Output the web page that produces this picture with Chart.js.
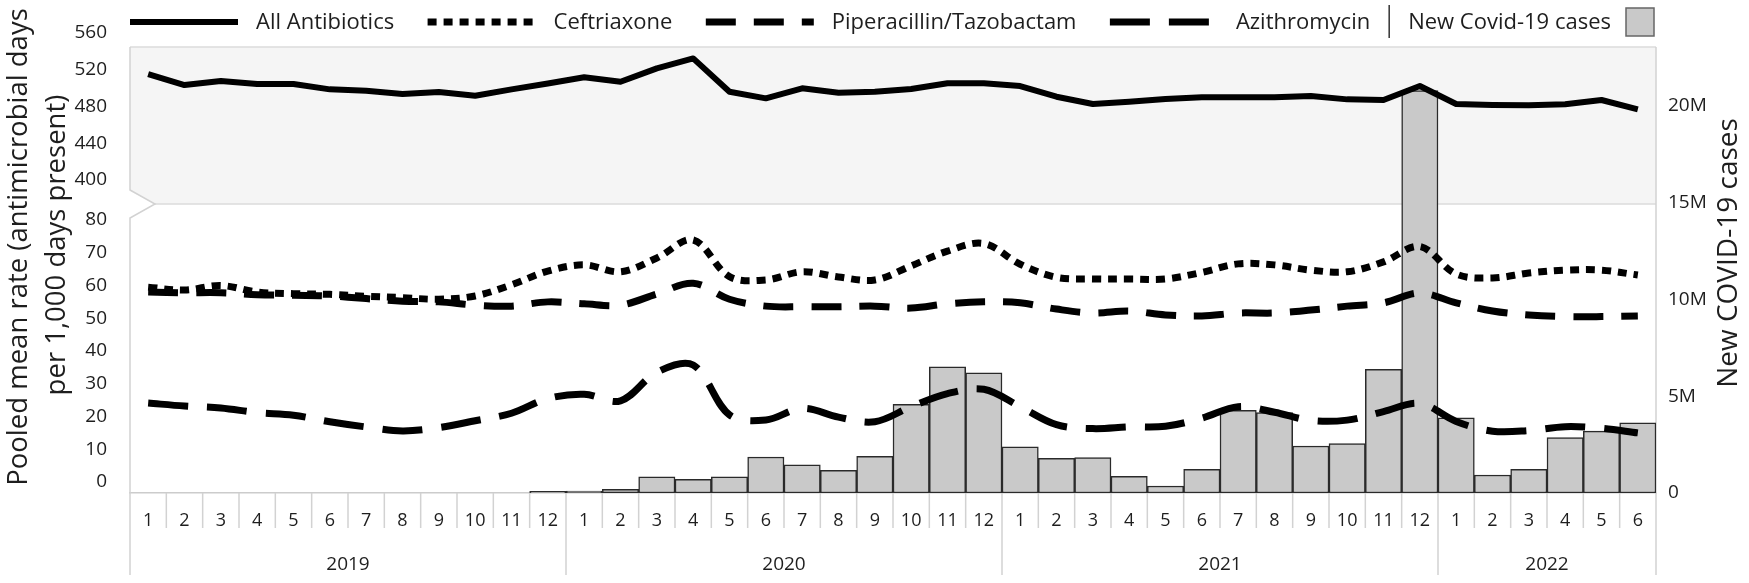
<!DOCTYPE html>
<html>
<head>
<meta charset="utf-8">
<script src="https://cdn.jsdelivr.net/npm/chart.js@4.4.1/dist/chart.umd.min.js"></script>
<style>
  html, body { margin: 0; padding: 0; background: #ffffff; }
  #wrap { width: 1749px; height: 583px; position: relative; }
  canvas { display: block; }
</style>
</head>
<body>
<div id="wrap"><canvas id="c" width="1749" height="583"></canvas></div>
<script>
// ---------------- DATA ----------------
const years = ['2019', '2020', '2021', '2022'];
const monthsPerYear = [12, 12, 12, 6];
const monthLabels = [
  '1','2','3','4','5','6','7','8','9','10','11','12',
  '1','2','3','4','5','6','7','8','9','10','11','12',
  '1','2','3','4','5','6','7','8','9','10','11','12',
  '1','2','3','4','5','6'
];
const allAntibiotics = [
  515.4, 503.4, 507.8, 504.5, 504.5, 498.7, 497.2, 493.6, 495.8, 491.8, 498.7, 505.0,
  511.8, 507.0, 521.6, 532.4, 496.1, 488.9, 499.8, 495.0, 496.0, 499.0, 505.3, 505.3,
  502.3, 490.7, 482.7, 485.2, 488.2, 490.0, 490.0, 490.0, 491.4, 487.8, 487.1, 502.3,
  482.7, 481.7, 481.3, 482.4, 487.1, 477.0
];
const ceftriaxone = [
  59.5, 58.6, 60.0, 58.0, 57.5, 57.3, 56.7, 56.3, 55.8, 56.8, 60.2, 64.4,
  66.3, 64.2, 68.4, 73.9, 62.7, 61.7, 64.2, 62.6, 61.7, 66.0, 70.5, 72.8,
  66.5, 62.5, 62.0, 62.0, 62.0, 64.0, 66.6, 66.3, 64.7, 64.2, 67.2, 71.9,
  63.5, 62.3, 63.8, 64.7, 64.7, 63.2
];
const piperacillinTazobactam = [
  58.0, 57.8, 57.8, 57.2, 57.0, 56.8, 56.0, 55.2, 55.0, 54.0, 53.7, 55.0,
  54.4, 54.0, 57.4, 60.7, 55.8, 53.7, 53.5, 53.5, 53.7, 53.1, 54.4, 55.0,
  54.7, 52.8, 51.6, 52.2, 51.0, 50.7, 51.6, 51.6, 52.5, 53.7, 54.7, 57.7,
  54.7, 52.2, 51.0, 50.5, 50.5, 50.7
];
const azithromycin = [
  24.1, 23.2, 22.6, 21.2, 20.4, 18.4, 16.8, 15.6, 16.6, 18.7, 21.0, 25.5,
  26.8, 24.8, 33.5, 35.7, 20.5, 18.9, 22.5, 19.8, 18.4, 23.0, 27.0, 28.3,
  23.0, 17.5, 16.3, 16.8, 17.0, 19.5, 23.0, 21.3, 18.8, 18.9, 21.5, 24.0,
  18.5, 15.5, 15.7, 16.9, 16.4, 15.0
];
// New Covid-19 cases, millions
const covidCasesM = [
  null, null, null, null, null, null, null, null, null, null, null, 0.08,
  0.10, 0.19, 0.83, 0.71, 0.84, 1.86, 1.45, 1.17, 1.90, 4.58, 6.52, 6.21,
  2.38, 1.79, 1.83, 0.86, 0.36, 1.22, 4.27, 4.15, 2.43, 2.55, 6.39, 20.8,
  3.89, 0.93, 1.22, 2.86, 3.20, 3.63
];
const upperTicks = [400, 440, 480, 520, 560];
const lowerTicks = [0, 10, 20, 30, 40, 50, 60, 70, 80];
const rightTicks = [0, 5, 10, 15, 20];
const leftTitleLines = ['Pooled mean rate (antimicrobial days', 'per 1,000 days present)'];
const rightTitle = 'New COVID-19 cases';

// ---------------- DERIVED ----------------
const yearCenters = [];
const yearBounds = [];
(function () {
  let s = 0;
  monthsPerYear.forEach(function (n, i) {
    yearCenters.push(s + (n - 1) / 2);
    if (i > 0) yearBounds.push(s - 0.5);
    s += n;
  });
})();
const nMonths = monthLabels.length;

const FONT = '"Open Sans", "Noto Sans", sans-serif';
const TXT = '#1e1e1e';

const decor = {
  id: 'decor',
  beforeDatasetsDraw(chart) {
    const { ctx, chartArea: ca, scales } = chart;
    const yT = scales.yTop, x = scales.x, x2 = scales.x2;
    const nb = yT.bottom, nd = 25, nh = 14;
    ctx.save();
    // upper panel background
    ctx.fillStyle = '#f5f5f5';
    ctx.fillRect(ca.left, ca.top, ca.right - ca.left, nb - ca.top);
    ctx.strokeStyle = '#dcdcdc';
    ctx.lineWidth = 1.5;
    ctx.beginPath();
    ctx.moveTo(ca.left, ca.top); ctx.lineTo(ca.right, ca.top);
    ctx.moveTo(ca.left, nb); ctx.lineTo(ca.right, nb);
    ctx.stroke();
    // break notch
    ctx.fillStyle = '#ffffff';
    ctx.beginPath();
    ctx.moveTo(ca.left - 2, nb - nh); ctx.lineTo(ca.left + nd, nb); ctx.lineTo(ca.left - 2, nb + nh);
    ctx.closePath(); ctx.fill();
    // frame edges
    ctx.strokeStyle = '#d2d2d2';
    ctx.lineWidth = 1.5;
    ctx.beginPath();
    ctx.moveTo(ca.left, ca.top); ctx.lineTo(ca.left, nb - nh); ctx.lineTo(ca.left + nd, nb);
    ctx.lineTo(ca.left, nb + nh); ctx.lineTo(ca.left, x2.bottom);
    ctx.moveTo(ca.right, ca.top); ctx.lineTo(ca.right, x2.bottom);
    ctx.stroke();
    // month separators
    ctx.beginPath();
    for (let i = 1; i < nMonths; i++) {
      const px = (x.getPixelForValue(i - 1) + x.getPixelForValue(i)) / 2;
      ctx.moveTo(px, x.top); ctx.lineTo(px, x.bottom);
    }
    // year separators
    yearBounds.forEach(function (b) {
      const px = x2.getPixelForValue(b);
      ctx.moveTo(px, x2.top); ctx.lineTo(px, x2.bottom);
    });
    ctx.stroke();
    ctx.restore();
  },
  afterDraw(chart) {
    const { ctx, chartArea: ca } = chart;
    const ds = chart.data.datasets;
    const lineSets = ds.filter(d => d.type === 'line');
    const barSet = ds.find(d => d.type === 'bar');
    ctx.save();
    ctx.font = '22px ' + FONT;
    ctx.fillStyle = TXT;
    ctx.textBaseline = 'middle';
    ctx.textAlign = 'left';
    const ly = 22, sampleLen = 108, sampleGap = 18, sepGap = 19, boxGap = 15, box = 28;
    const tws = lineSets.map(d => ctx.measureText(d.label).width);
    const covidW = ctx.measureText(barSet.label).width;
    const fixed = lineSets.length * (sampleLen + sampleGap) + tws.reduce((a, b) => a + b, 0)
      + sepGap * 2 + covidW + boxGap + box;
    const gap = (ca.right - 2 - ca.left - fixed) / (lineSets.length - 1);
    let cx = ca.left;
    lineSets.forEach(function (d, i) {
      ctx.strokeStyle = d.borderColor;
      ctx.lineWidth = d.borderWidth;
      ctx.lineCap = 'butt';
      ctx.setLineDash(d.borderDash || []);
      ctx.beginPath(); ctx.moveTo(cx, ly); ctx.lineTo(cx + sampleLen, ly); ctx.stroke();
      ctx.setLineDash([]);
      cx += sampleLen + sampleGap;
      ctx.fillText(d.label, cx, ly + 1);
      cx += tws[i];
      if (i < lineSets.length - 1) cx += gap;
    });
    cx += sepGap;
    ctx.strokeStyle = '#333';
    ctx.lineWidth = 1.5;
    ctx.beginPath(); ctx.moveTo(cx, 5); ctx.lineTo(cx, 38); ctx.stroke();
    cx += sepGap;
    ctx.fillText(barSet.label, cx, ly + 1);
    cx += covidW + boxGap;
    ctx.fillStyle = barSet.backgroundColor;
    ctx.fillRect(cx, 8, box, box);
    ctx.strokeStyle = '#666';
    ctx.strokeRect(cx, 8, box, box);

    // axis titles (rotated)
    ctx.fillStyle = TXT;
    function vText(text, x, y, size) {
      ctx.save(); ctx.font = size + 'px ' + FONT;
      ctx.translate(x, y); ctx.rotate(-Math.PI / 2);
      ctx.textAlign = 'center'; ctx.textBaseline = 'middle';
      ctx.fillText(text, 0, 0); ctx.restore();
    }
    vText(leftTitleLines[0], 19, 247, 27.5);
    vText(leftTitleLines[1], 57, 245, 27.5);
    vText(rightTitle, 1729, 253, 28);
    ctx.restore();
  }
};

function build() {
  Chart.defaults.font.family = FONT;
  Chart.defaults.color = TXT;
  new Chart(document.getElementById('c'), {
    data: {
      labels: monthLabels,
      datasets: [
        { type: 'line', label: 'All Antibiotics', data: allAntibiotics, yAxisID: 'yTop',
          borderColor: '#000', borderWidth: 6, tension: 0, pointRadius: 0, borderJoinStyle: 'round', order: 1 },
        { type: 'line', label: 'Ceftriaxone', data: ceftriaxone, yAxisID: 'yLow',
          borderColor: '#000', borderWidth: 7, borderDash: [9, 7], tension: 0.35, pointRadius: 0, order: 2 },
        { type: 'line', label: 'Piperacillin/Tazobactam', data: piperacillinTazobactam, yAxisID: 'yLow',
          borderColor: '#000', borderWidth: 7, borderDash: [30, 18], tension: 0.35, pointRadius: 0, order: 3 },
        { type: 'line', label: 'Azithromycin', data: azithromycin, yAxisID: 'yLow',
          borderColor: '#000', borderWidth: 7, borderDash: [40, 19], tension: 0.35, pointRadius: 0, order: 4 },
        { type: 'bar', label: 'New Covid-19 cases', data: covidCasesM, yAxisID: 'y2',
          backgroundColor: '#c9c9c9', borderColor: '#2a2a2a', borderWidth: 1.5, borderSkipped: false,
          barPercentage: 1, categoryPercentage: 1, order: 10 }
      ]
    },
    options: {
      responsive: false,
      animation: false,
      devicePixelRatio: 1,
      layout: { padding: { left: 70, right: 13, top: 47, bottom: 8 } },
      plugins: { legend: { display: false }, tooltip: { enabled: false } },
      scales: {
        x: {
          type: 'category', position: 'bottom', offset: true, weight: 0,
          grid: { display: false },
          border: { display: true, color: '#cccccc', width: 1.5 },
          ticks: { autoSkip: false, maxRotation: 0, minRotation: 0, padding: 9, font: { size: 18 }, color: TXT },
          afterFit: s => { s.height = 35; }
        },
        x2: {
          type: 'linear', position: 'bottom', weight: 1, min: -0.5, max: nMonths - 0.5,
          grid: { display: false }, border: { display: false },
          afterBuildTicks: s => { s.ticks = yearCenters.map(v => ({ value: v })); },
          ticks: { autoSkip: false, maxRotation: 0, minRotation: 0, padding: 17, font: { size: 19 }, color: TXT,
                   callback: (v, i) => years[i] },
          afterFit: s => { s.height = 47; }
        },
        yTop: {
          type: 'linear', position: 'left', stack: 'left', stackWeight: 157, weight: 1,
          min: 373.9, max: 544.8,
          grid: { display: false }, border: { display: false },
          afterBuildTicks: s => { s.ticks = upperTicks.map(v => ({ value: v })); },
          ticks: { autoSkip: false, padding: 15, font: { size: 19 }, color: TXT },
          afterFit: s => { s.width = 60; }
        },
        yLow: {
          type: 'linear', position: 'left', stack: 'left', stackWeight: 289, weight: 0,
          min: -3.359, max: 84.885,
          grid: { display: false }, border: { display: false },
          afterBuildTicks: s => { s.ticks = lowerTicks.map(v => ({ value: v })); },
          ticks: { autoSkip: false, padding: 15, font: { size: 19 }, color: TXT },
          afterFit: s => { s.width = 60; }
        },
        y2: {
          type: 'linear', position: 'right', min: 0, max: 23.05,
          grid: { display: false }, border: { display: false },
          afterBuildTicks: s => { s.ticks = rightTicks.map(v => ({ value: v })); },
          ticks: { autoSkip: false, padding: 4, font: { size: 19 }, color: TXT,
                   callback: v => (v === 0 ? '0' : v + 'M') },
          afterFit: s => { s.width = 80; }
        }
      }
    },
    plugins: [decor]
  });
}

if (document.fonts && document.fonts.load) {
  Promise.all([
    document.fonts.load('18px "Open Sans"'),
    document.fonts.load('26px "Open Sans"')
  ]).then(build, build);
} else {
  build();
}
</script>
</body>
</html>
